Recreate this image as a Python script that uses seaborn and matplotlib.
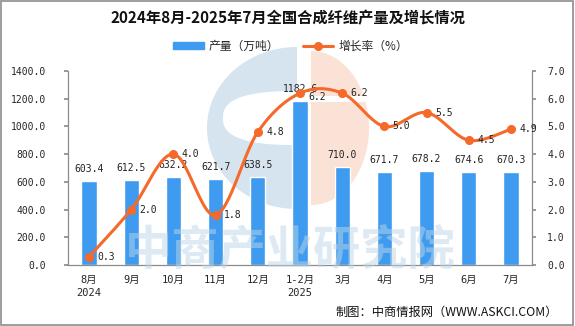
import numpy as np
import pandas as pd
import matplotlib
matplotlib.use("Agg")
import matplotlib.pyplot as plt
import seaborn as sns
from matplotlib.lines import Line2D
from matplotlib.patches import Patch, Rectangle, Polygon

categories = ["8月\n2024", "9月", "10月", "11月", "12月", "1-2月\n2025", "3月", "4月", "5月", "6月", "7月"]
output_vals = [603.4, 612.5, 632.2, 621.7, 638.5, 1182.6, 710.0, 671.7, 678.2, 674.6, 670.3]
growth_vals = [0.3, 2.0, 4.0, 1.8, 4.8, 6.2, 6.2, 5.0, 5.5, 4.5, 4.9]
left_ticks = [0, 200, 400, 600, 800, 1000, 1200, 1400]
right_ticks = [0, 1, 2, 3, 4, 5, 6, 7]

sns.set_theme(style="white")
plt.rcParams['font.family'] = ['Noto Sans CJK SC', 'DejaVu Sans']
MONO = ['DejaVu Sans Mono', 'Noto Sans CJK SC']

BAR = "#3E9BEF"
LINE = "#F5692A"
AX = "#8C8C8C"
W, H = 575, 326

fig = plt.figure(figsize=(W/100, H/100), dpi=100)

# background decoration layer in pixel coordinates
bg = fig.add_axes([0, 0, 1, 1], zorder=0)
bg.set_xlim(0, W)
bg.set_ylim(H, 0)
bg.axis("off")

def half_shape(cx, cy, rx, ry, t0, t1, p=2.0, n=100):
    t = np.linspace(t0, t1, n)
    c, s = np.cos(t), np.sin(t)
    return np.column_stack([cx + rx*np.sign(c)*np.abs(c)**(2/p), cy + ry*np.sign(s)*np.abs(s)**(2/p)])

bg.add_patch(Polygon(half_shape(297, 128, 90, 81, np.pi/2, 3*np.pi/2), closed=True,
                     facecolor="#D5E4EE", edgecolor="none"))
bg.add_patch(Polygon(half_shape(297, 118, 74, 27, np.pi/2, 3*np.pi/2, p=2.6), closed=True,
                     facecolor="white", edgecolor="none"))
bg.add_patch(Polygon(half_shape(311, 128, 58, 77, -np.pi/2, np.pi/2), closed=True,
                     facecolor="#FBE2D6", edgecolor="none"))
bg.add_patch(Rectangle((311, 96), 60, 6, facecolor="white", edgecolor="none"))

ax = fig.add_axes([68/W, 1-265/H, (532-68)/W, (265-71)/H], zorder=1)
ax.set_facecolor("none")

df = pd.DataFrame({"cat": categories, "val": output_vals})
sns.barplot(data=df, x="cat", y="val", color=BAR, width=0.36, ax=ax, saturation=1)
ax.set_xlim(-0.5, len(categories)-0.5)
ax.set_ylim(0, 1400)
ax.set_yticks(left_ticks)
ax.set_yticklabels([f"{v:.1f}" for v in left_ticks], fontsize=7, family=MONO)
for lab in ax.get_xticklabels():
    lab.set_fontfamily(MONO)
    lab.set_fontsize(7.5)
    lab.set_linespacing(1.45)
ax.set_xlabel("")
ax.set_ylabel("")
ax.tick_params(axis='x', length=0, pad=7)
ax.tick_params(axis='y', length=3, color=AX, direction='out', pad=13)
ax.set_xticks(np.arange(-0.5, len(categories), 1), minor=True)
ax.tick_params(axis='x', which='minor', length=5, color=AX, direction='out')
for s in ["top", "right"]:
    ax.spines[s].set_visible(False)
for s in ["left", "bottom"]:
    ax.spines[s].set_color(AX)
    ax.spines[s].set_linewidth(0.9)

for i, v in enumerate(output_vals):
    ax.annotate(f"{v:.1f}", (i, v), xytext=(0, 5), textcoords="offset points",
                ha="center", va="bottom", fontsize=7, family=MONO, color="#222222")

ax2 = ax.twinx()
ax2.set_ylim(0, 7)
ax2.set_yticks(right_ticks)
ax2.set_yticklabels([f"{v:.1f}" for v in right_ticks], fontsize=7, family=MONO)
ax2.tick_params(axis='y', length=3, color=AX, direction='out', pad=8)
for s in ["top", "left", "bottom"]:
    ax2.spines[s].set_visible(False)
ax2.spines["right"].set_color(AX)
ax2.spines["right"].set_linewidth(0.9)

# smooth curve (Catmull-Rom rendering through the data points)
x = np.arange(len(growth_vals), dtype=float)
y = np.array(growth_vals, dtype=float)
px = np.concatenate([[x[0]], x, [x[-1]]])
py = np.concatenate([[y[0]], y, [y[-1]]])
xs, ys = [], []
t = np.linspace(0, 1, 30)
for i in range(1, len(px)-2):
    p0, p1, p2, p3 = (px[i-1], py[i-1]), (px[i], py[i]), (px[i+1], py[i+1]), (px[i+2], py[i+2])
    c1 = (p1[0] + (p2[0]-p0[0])/6, p1[1] + (p2[1]-p0[1])/6)
    c2 = (p2[0] - (p3[0]-p1[0])/6, p2[1] - (p3[1]-p1[1])/6)
    bx = (1-t)**3*p1[0] + 3*(1-t)**2*t*c1[0] + 3*(1-t)*t**2*c2[0] + t**3*p2[0]
    by = (1-t)**3*p1[1] + 3*(1-t)**2*t*c1[1] + 3*(1-t)*t**2*c2[1] + t**3*p2[1]
    xs.extend(bx); ys.extend(by)
ax2.plot(xs, ys, color=LINE, lw=2.2, zorder=3)
ax2.plot(x, y, 'o', color=LINE, ms=5.5, zorder=4)

for i, v in enumerate(growth_vals):
    dy = -3 if i == 5 else 0
    ax2.annotate(f"{v:.1f}", (i, v), xytext=(6, dy), textcoords="offset points",
                 ha="left", va="center", fontsize=7, family=MONO, color="#222222")

# watermark text on top, semi transparent
fig.text(290/W, 1-250/H, "中商产业研究院", ha="center", va="center", fontsize=34,
         fontweight="bold", color="#BCD5E8", alpha=0.5, zorder=5)

fig.text(0.5, 1-18/H, "2024年8月-2025年7月全国合成纤维产量及增长情况", ha="center", va="center",
         fontsize=11, fontweight="bold", color="#111111")

handles = [Patch(color=BAR, label="产量（万吨）"),
           Line2D([0], [0], color=LINE, lw=2.2, marker='o', ms=5.5, label="增长率（%）")]
fig.legend(handles=handles, loc="center", bbox_to_anchor=(0.505, 1-46/H), ncol=2, frameon=False,
           fontsize=8.5, handlelength=2.6, handleheight=0.6, columnspacing=2.0, handletextpad=0.4)

fig.text(558/W, 1-312/H, "制图：中商情报网（WWW.ASKCI.COM）", ha="right", va="center",
         fontsize=8.8, color="#111111")

fig.patches.append(Rectangle((0.001, 0.004), 0.995, 0.994, transform=fig.transFigure,
                             fill=False, edgecolor="#8C8C8C", lw=1.2))

fig.savefig("out.png", dpi=100)
